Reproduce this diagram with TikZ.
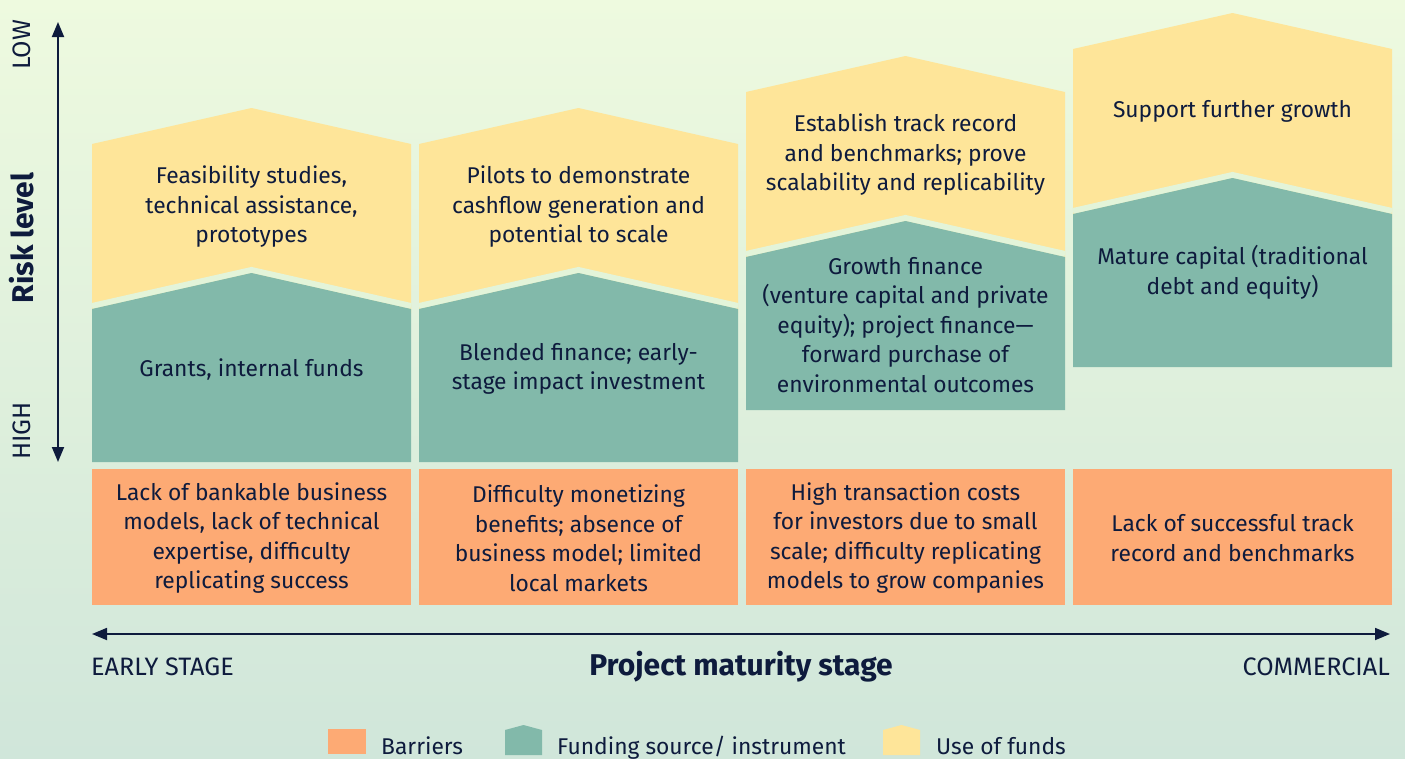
\documentclass[tikz,border=0pt]{standalone}
\usepackage{fontspec}
\setmainfont{Fira Sans}
\usetikzlibrary{arrows.meta}
\definecolor{navy}{HTML}{0E1B3D}
\definecolor{bgtop}{HTML}{EEFADF}
\definecolor{bgbot}{HTML}{D0E6DA}
\definecolor{gapc}{HTML}{E3F4D9}
\definecolor{usec}{HTML}{FEE599}
\definecolor{fundc}{HTML}{82B9AA}
\definecolor{barc}{HTML}{FDAA74}
\tikzset{
  txt/.style={text=navy, align=center, inner sep=0pt, font=\fontsize{22.8}{29.5}\selectfont},
  lbl/.style={text=navy, inner sep=0pt, font=\fontsize{25.2}{28}\selectfont},
  leg/.style={text=navy, inner sep=0pt, font=\fontsize{22.8}{28}\selectfont},
  ttl/.style={text=navy, inner sep=0pt, font=\bfseries\fontsize{30}{34}\selectfont},
  axisline/.style={draw=navy, line width=1.8pt, {Triangle[length=15pt,width=12pt]}-{Triangle[length=15pt,width=12pt]}},
}
\newcommand\stagecol[3]{%
  \fill[usec] (#1,#2+36) -- (#1+159.5,#2) -- (#1+319,#2+36) -- (#1+319,#2+205) -- (#1,#2+205) -- cycle;
  \draw[gapc, line width=6pt] (#1,#2+198) -- (#1+159.5,#2+162) -- (#1+319,#2+198);
  \fill[fundc] (#1,#2+201) -- (#1+159.5,#2+165) -- (#1+319,#2+201) -- (#1+319,#3) -- (#1,#3) -- cycle;
  \fill[barc] (#1,469) rectangle (#1+319,605);
}
\begin{document}
\begin{tikzpicture}[x=1pt,y=-1pt]
\useasboundingbox (0,0) rectangle (1405,758);
\shade[top color=bgtop,bottom color=bgbot] (0,0) rectangle (1405,758);

\stagecol{92}{108}{462}
\stagecol{419}{108}{462}
\stagecol{746}{56}{410}
\stagecol{1073}{13}{367}

% use of funds
\node[txt] (u1) at (251.5,207) {Feasibility studies,\\technical assistance,\\prototypes};
\node[txt] (u2) at (578.5,207) {Pilots to demonstrate\\cashflow generation and\\potential to scale};
\node[txt] (u3) at (905.5,155) {Establish track record\\and benchmarks; prove\\scalability and replicability};
\node[txt] (u4) at (1232.5,111) {Support further growth};
% funding
\node[txt] (f1) at (251.5,369) {Grants, internal funds};
\node[txt] (f2) at (578.5,369) {Blended finance; early-\\stage impact investment};
\node[txt] (f3) at (905.5,325) {Growth finance\\(venture capital and private\\equity); project finance—\\forward purchase of\\environmental outcomes};
\node[txt] (f4) at (1232.5,272.5) {Mature capital (traditional\\debt and equity)};
% barriers
\node[txt] (b1) at (251.5,538) {Lack of bankable business\\models, lack of technical\\expertise, difficulty\\replicating success};
\node[txt] (b2) at (578.5,538) {Difficulty monetizing\\benefits; absence of\\business model; limited\\local markets};
\node[txt] (b3) at (905.5,538) {High transaction costs\\for investors due to small\\scale; difficulty replicating\\models to grow companies};
\node[txt] (b4) at (1232.5,538) {Lack of successful track\\record and benchmarks};

% axes
\coordinate (ytop) at (58,22);
\coordinate (ybot) at (58,462);
\draw[axisline] (ybot) -- (ytop);
\coordinate (xl) at (92,634);
\coordinate (xr) at (1390,634);
\draw[axisline] (xl) -- (xr);

\node[lbl, rotate=90] (low) at (22,45) {LOW};
\node[lbl, rotate=90] (high) at (22,431) {HIGH};
\node[ttl, rotate=90] (risk) at (22,238) {Risk level};
\node[lbl, anchor=west] (early) at (91,667) {EARLY STAGE};
\node[lbl, anchor=east] (comm) at (1390,667) {COMMERCIAL};
\node[ttl] (pms) at (741,667) {Project maturity stage};

% legend
\fill[barc] (328,729) rectangle (366,754);
\fill[fundc] (505,730) -- (523.5,725) -- (542,730) -- (542,755) -- (505,755) -- cycle;
\fill[usec] (883,730) -- (901.5,725) -- (920,730) -- (920,755) -- (883,755) -- cycle;
\node[leg, anchor=base west] (lb) at (381,754) {Barriers};
\node[leg, anchor=base west] (lf) at (557,754) {Funding source/ instrument};
\node[leg, anchor=base west] (lu) at (936,754) {Use of funds};
\end{tikzpicture}
\end{document}
